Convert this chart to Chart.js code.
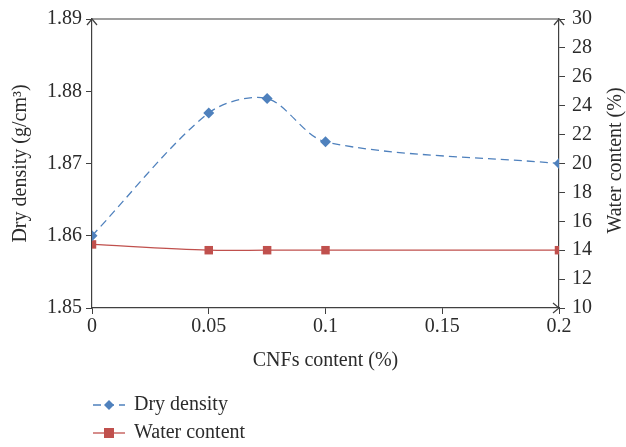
<!DOCTYPE html>
<html>
<head>
<meta charset="utf-8">
<script src="https://cdn.jsdelivr.net/npm/chart.js@4.4.0/dist/chart.umd.min.js"></script>
<style>
  html, body { margin: 0; padding: 0; background: #fff; }
  #wrap { width: 626px; height: 447px; position: relative; }
</style>
</head>
<body>
<div id="wrap"><canvas id="chart"></canvas></div>
<script>
// data
const cnfContent = [0, 0.05, 0.075, 0.1, 0.2];
const dryDensity = [1.860, 1.877, 1.879, 1.873, 1.870];
const waterContent = [14.4, 14.0, 14.0, 14.0, 14.0];

const xTickLabels = ["0", "0.05", "0.1", "0.15", "0.2"];
const leftTickLabels = ["1.85", "1.86", "1.87", "1.88", "1.89"];
const rightTickLabels = ["10", "12", "14", "16", "18", "20", "22", "24", "26", "28", "30"];

const seriesNames = ["Dry density", "Water content"];
const rightTitle = "Water content (%)";

const FONT = "'Liberation Serif', 'DejaVu Serif', serif";
const FS = 20;
const AXIS = "#404040";
const TEXT = "#2b2b2b";
const BLUE = "#4F81BD";
const RED = "#C0504D";

// --- arrows, top frame, right title and legend drawn on top ---
const extras = {
  id: "extras",
  afterDraw(chart) {
    const ctx = chart.ctx;
    const a = chart.chartArea;
    ctx.save();
    ctx.strokeStyle = AXIS;
    ctx.lineWidth = 1.2;
    // top frame line
    ctx.beginPath();
    ctx.moveTo(a.left, a.top);
    ctx.lineTo(a.right, a.top);
    ctx.stroke();
    // arrow heads
    function chevron(x, y, dir) {
      ctx.beginPath();
      if (dir === "up") {
        ctx.moveTo(x - 5, y + 6); ctx.lineTo(x, y); ctx.lineTo(x + 5, y + 6);
      } else {
        ctx.moveTo(x - 6, y - 5); ctx.lineTo(x, y); ctx.lineTo(x - 6, y + 5);
      }
      ctx.stroke();
    }
    chevron(a.left, a.top, "up");
    chevron(a.right, a.top, "up");
    chevron(a.right, a.bottom, "right");

    // right axis title, reads bottom to top like the left one
    ctx.fillStyle = TEXT;
    ctx.font = FS + "px " + FONT;
    ctx.textAlign = "center";
    ctx.textBaseline = "middle";
    ctx.translate(616, (a.top + a.bottom) / 2 - 3);
    ctx.rotate(-Math.PI / 2);
    ctx.fillText(rightTitle, 0, 0);
    ctx.setTransform(1, 0, 0, 1, 0, 0);

    // legend
    const ds = chart.data.datasets;
    const rows = [405, 433];
    ds.forEach((d, i) => {
      const y = rows[i];
      ctx.strokeStyle = d.borderColor;
      ctx.lineWidth = d.borderWidth;
      ctx.setLineDash(d.borderDash || []);
      ctx.beginPath();
      ctx.moveTo(93, y);
      ctx.lineTo(125, y);
      ctx.stroke();
      ctx.setLineDash([]);
      ctx.fillStyle = d.pointBackgroundColor;
      ctx.beginPath();
      if (d.pointStyle === "rectRot") {
        const r = 5;
        ctx.moveTo(109, y - r); ctx.lineTo(109 + r, y); ctx.lineTo(109, y + r); ctx.lineTo(109 - r, y);
      } else {
        ctx.rect(104, y - 5, 10, 10);
      }
      ctx.closePath();
      ctx.fill();
      ctx.fillStyle = TEXT;
      ctx.font = FS + "px " + FONT;
      ctx.textBaseline = "middle";
      ctx.textAlign = "left";
      ctx.fillText(d.label, 134, y);
    });
    ctx.restore();
  }
};

new Chart(document.getElementById("chart"), {
  type: "line",
  data: {
    datasets: [
      {
        label: seriesNames[0],
        data: cnfContent.map((x, i) => ({ x: x, y: dryDensity[i] })),
        yAxisID: "y",
        borderColor: BLUE,
        borderWidth: 1.3,
        borderDash: [8, 5],
        pointStyle: "rectRot",
        pointRadius: 5.5,
        pointBackgroundColor: BLUE,
        pointBorderColor: BLUE,
        pointBorderWidth: 0,
        tension: 0.3
      },
      {
        label: seriesNames[1],
        data: cnfContent.map((x, i) => ({ x: x, y: waterContent[i] })),
        yAxisID: "y1",
        borderColor: RED,
        borderWidth: 1.3,
        pointStyle: "rect",
        pointRadius: 6,
        pointBackgroundColor: RED,
        pointBorderColor: RED,
        pointBorderWidth: 0,
        tension: 0.3
      }
    ]
  },
  options: {
    responsive: true,
    maintainAspectRatio: false,
    animation: false,
    layout: { padding: { top: 12, left: 0, right: 0, bottom: 70 } },
    plugins: {
      legend: { display: false },
      tooltip: { enabled: false }
    },
    scales: {
      x: {
        type: "linear",
        min: 0,
        max: 0.2,
        ticks: {
          stepSize: 0.05,
          color: TEXT,
          font: { family: FONT, size: FS },
          padding: 1,
          maxRotation: 0,
          callback: (v, i) => xTickLabels[i]
        },
        grid: { drawOnChartArea: false, color: AXIS, tickLength: 6 },
        border: { color: AXIS, width: 1.2 },
        title: {
          display: true,
          text: "CNFs content (%)",
          color: TEXT,
          font: { family: FONT, size: FS },
          padding: { top: 10 }
        },
        afterFit: s => { s.height = 69; }
      },
      y: {
        position: "left",
        min: 1.85,
        max: 1.89,
        ticks: {
          stepSize: 0.01,
          color: TEXT,
          font: { family: FONT, size: FS },
          padding: 4,
          callback: (v, i) => leftTickLabels[i]
        },
        grid: { drawOnChartArea: false, color: AXIS, tickLength: 6 },
        border: { color: AXIS, width: 1.2 },
        title: {
          display: true,
          text: "Dry density (g/cm³)",
          color: TEXT,
          font: { family: FONT, size: FS },
          padding: { top: 9, bottom: 2 }
        },
        afterFit: s => { s.width = 92; }
      },
      y1: {
        position: "right",
        min: 10,
        max: 30,
        ticks: {
          stepSize: 2,
          color: TEXT,
          font: { family: FONT, size: FS },
          padding: 7,
          callback: (v, i) => rightTickLabels[i]
        },
        grid: { drawOnChartArea: false, color: AXIS, tickLength: 6 },
        border: { color: AXIS, width: 1.2 },
        afterFit: s => { s.width = 67; }
      }
    }
  },
  plugins: [extras]
});
</script>
</body>
</html>
